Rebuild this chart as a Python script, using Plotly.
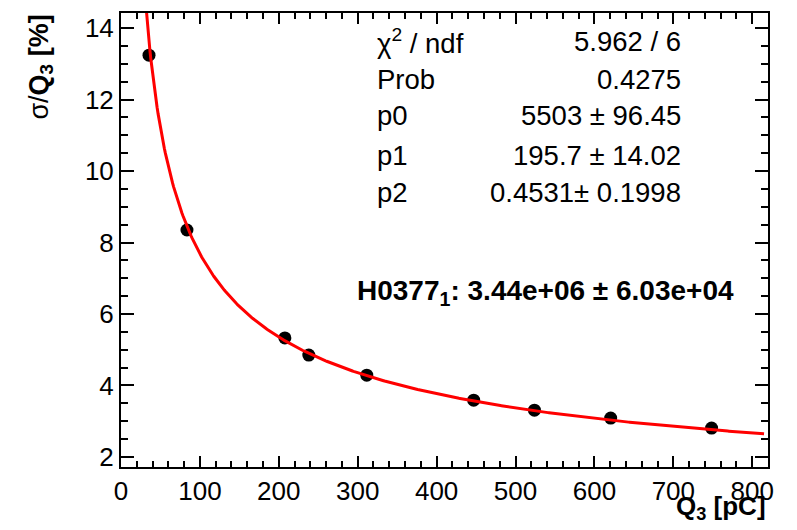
import numpy as np
import plotly.graph_objects as go

# data points (Q3 in pC, sigma/Q3 in %)
q3 = [35.5, 83.6, 207.7, 238.0, 311.5, 447.0, 524.0, 620.6, 748.5]
res = [13.24, 8.35, 5.33, 4.85, 4.29, 3.59, 3.31, 3.09, 2.81]
q3_err = [7, 7, 7, 7, 7, 7, 7, 7, 7]

# fit parameters as shown in the stats box
p0, p1, p2 = 5503.0, 195.7, 0.4531
fit_range = [30.0, 815.0]

stat_labels = ["χ<sup>2</sup> / ndf", "Prob", "p0", "p1", "p2"]
stat_values = ["5.962 / 6", "0.4275", "5503 ± 96.45", "195.7 ± 14.02", "0.4531± 0.1998"]
gain_text = "<b>H0377<sub>1</sub>: 3.44e+06 ± 6.03e+04</b>"

xfit = np.linspace(fit_range[0], fit_range[1], 600)
yfit = np.sqrt(p0 / xfit + (p1 / xfit) ** 2 + p2 ** 2)

# page has an 8px body margin; compensate so the plot box sits where the reference has it
OFF = 8
PAGE_W, PAGE_H = 797, 530
PL, PR, PT, PB = 121, 768.5, 13, 467  # plot box in page pixels
W, H = PAGE_W - OFF, PAGE_H - OFF
L, T = PL - OFF, PT - OFF
R = W - L - (PR - PL)
B = H - T - (PB - PT)
pw, ph = PR - PL, PB - PT

def px(x):
    return (x - PL) / pw

def py(y):
    return (PB - y) / ph

FONT = "Liberation Sans, Arial, Helvetica, sans-serif"

fig = go.Figure()
fig.add_trace(go.Scatter(x=q3, y=res, mode="markers",
                         marker=dict(color="black", size=13),
                         error_x=dict(type="data", array=q3_err, color="black", thickness=2, width=0),
                         showlegend=False))
fig.add_trace(go.Scatter(x=xfit, y=yfit, mode="lines",
                         line=dict(color="#ff0000", width=3), showlegend=False))

ann = []
rows_y = [41.7, 79, 115.7, 155, 192.5]
for lab, val, yy in zip(stat_labels, stat_values, rows_y):
    ann.append(dict(x=px(375), y=py(yy), xref="paper", yref="paper", text=lab,
                    xanchor="left", yanchor="middle", showarrow=False,
                    font=dict(family=FONT, size=27.5, color="black")))
    ann.append(dict(x=px(683), y=py(yy), xref="paper", yref="paper", text=val,
                    xanchor="right", yanchor="middle", showarrow=False,
                    font=dict(family=FONT, size=27.5, color="black")))
ann.append(dict(x=px(355), y=py(292), xref="paper", yref="paper", text=gain_text,
                xanchor="left", yanchor="middle", showarrow=False,
                font=dict(family=FONT, size=28, color="black")))
ann.append(dict(x=px(40), y=py(13), xref="paper", yref="paper",
                text="σ/<b>Q<sub>3</sub> [%]</b>", textangle=-90,
                xanchor="center", yanchor="top", showarrow=False,
                font=dict(family=FONT, size=27, color="black")))
ann.append(dict(x=px(768), y=py(508), xref="paper", yref="paper",
                text="<b>Q<sub>3</sub> [pC]</b>",
                xanchor="right", yanchor="middle", showarrow=False,
                font=dict(family=FONT, size=26, color="black")))

fig.update_layout(
    width=W, height=H,
    margin=dict(l=L, r=R, t=T, b=B, autoexpand=False),
    paper_bgcolor="white", plot_bgcolor="white",
    font=dict(family=FONT, size=26, color="black"),
    annotations=ann,
    xaxis=dict(range=[0, 820], dtick=100, tick0=0, ticks="inside", ticklen=11, tickwidth=1.5,
               tickcolor="black", showline=True, linecolor="black", linewidth=2, mirror="allticks",
               showgrid=False, zeroline=False,
               minor=dict(dtick=20, ticks="inside", ticklen=6, tickwidth=1.5, tickcolor="black", showgrid=False)),
    yaxis=dict(range=[1.72, 14.42], dtick=2, tick0=0, ticks="inside", ticklen=13, tickwidth=1.5,
               tickcolor="black", showline=True, linecolor="black", linewidth=2, mirror="allticks",
               showgrid=False, zeroline=False,
               minor=dict(dtick=0.5, ticks="inside", ticklen=7, tickwidth=1.5, tickcolor="black", showgrid=False)),
)

fig.write_html("out.html")
